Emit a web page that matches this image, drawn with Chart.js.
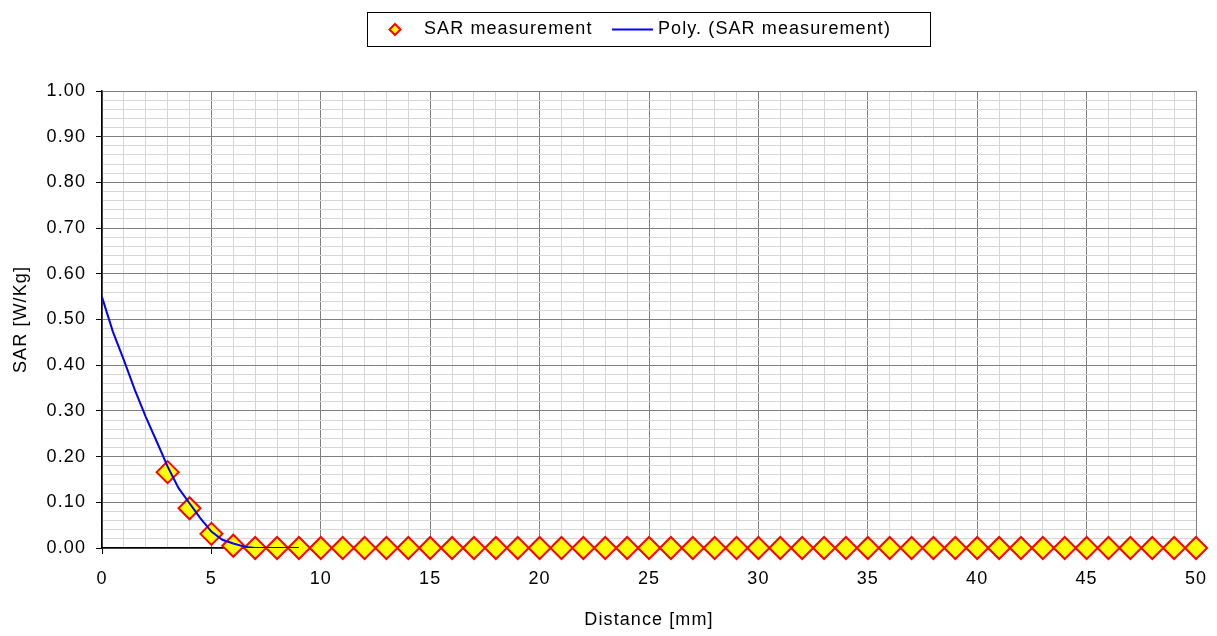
<!DOCTYPE html>
<html>
<head>
<meta charset="utf-8">
<script src="https://cdn.jsdelivr.net/npm/chart.js@4/dist/chart.umd.min.js"></script>
<style>
html,body{margin:0;padding:0;background:#fff;}
#wrap{width:1217px;height:636px;position:relative;}
</style>
</head>
<body>
<div id="wrap"><canvas id="c" width="1217" height="636"></canvas></div>
<script>
// Measured SAR values (distance in mm)
const measDistance = [3,4,5,6,7,8,9,10,11,12,13,14,15,16,17,18,19,20,21,22,23,24,25,26,27,28,29,30,31,32,33,34,35,36,37,38,39,40,41,42,43,44,45,46,47,48,49,50];
const measSAR = [0.166,0.087,0.031,0.005,0,0,0,0,0,0,0,0,0,0,0,0,0,0,0,0,0,0,0,0,0,0,0,0,0,0,0,0,0,0,0,0,0,0,0,0,0,0,0,0,0,0,0,0];
// Polynomial trend line
const polyDistance = [0,0.5,1,1.5,2,2.5,3,3.5,4,4.5,5,5.5,6,6.5,7,7.5,8,8.5,9];
const polySAR = [0.549,0.473,0.411,0.346,0.287,0.233,0.178,0.131,0.098,0.065,0.036,0.018,0.010,0.003,0,0,0,0,0];
// Tick labels
const xTickLabels = ['0','5','10','15','20','25','30','35','40','45','50'];
const yTickLabels = ['0.00','0.10','0.20','0.30','0.40','0.50','0.60','0.70','0.80','0.90','1.00'];
const seriesNames = ['SAR measurement','Poly. (SAR measurement)'];

const FONT = "'Liberation Sans', Arial, sans-serif";
const FS = 18;
const LS = '1.1px';

const spacingPlugin = {
  id: 'spacing',
  beforeInit(chart){ chart.ctx.letterSpacing = LS; },
  beforeUpdate(chart){ chart.ctx.letterSpacing = LS; },
  beforeLayout(chart){ chart.ctx.letterSpacing = LS; },
  beforeDraw(chart){ chart.ctx.letterSpacing = LS; }
};

const legendPlugin = {
  id: 'boxLegend',
  afterDraw(chart){
    const ctx = chart.ctx;
    ctx.save();
    ctx.letterSpacing = LS;
    ctx.strokeStyle = '#000';
    ctx.lineWidth = 1;
    ctx.strokeRect(367.5, 12.5, 563, 34);
    const cy = 29.5;
    ctx.beginPath();
    ctx.moveTo(395, cy - 5.5);
    ctx.lineTo(400.5, cy);
    ctx.lineTo(395, cy + 5.5);
    ctx.lineTo(389.5, cy);
    ctx.closePath();
    ctx.fillStyle = '#ffff00';
    ctx.fill();
    ctx.strokeStyle = '#ff0000';
    ctx.lineWidth = 2;
    ctx.stroke();
    ctx.font = FS + 'px ' + FONT;
    ctx.fillStyle = '#000';
    ctx.textBaseline = 'middle';
    ctx.textAlign = 'left';
    ctx.fillText(seriesNames[0], 424, cy);
    ctx.beginPath();
    ctx.moveTo(612, cy);
    ctx.lineTo(653, cy);
    ctx.strokeStyle = '#0000ff';
    ctx.lineWidth = 2;
    ctx.stroke();
    ctx.fillText(seriesNames[1], 658, cy);
    ctx.restore();
  }
};

const gridColor = (c) => (c.index % 5 === 0 ? '#808080' : '#d6d6d6');
const tickColor = (c) => (c.index % 5 === 0 ? '#000' : 'rgba(0,0,0,0)');

new Chart(document.getElementById('c'), {
  type: 'scatter',
  data: {
    datasets: [
      {
        label: seriesNames[1],
        data: polyDistance.map((x, i) => ({x: x, y: polySAR[i]})),
        showLine: true,
        borderColor: '#0000ff',
        borderWidth: 2,
        pointRadius: 0,
        tension: 0,
        fill: false,
        order: 0
      },
      {
        label: seriesNames[0],
        data: measDistance.map((x, i) => ({x: x, y: measSAR[i]})),
        showLine: false,
        pointStyle: 'rectRot',
        pointRadius: 11,
        pointHoverRadius: 11,
        pointBackgroundColor: '#ffff00',
        pointBorderColor: '#ff0000',
        pointBorderWidth: 2,
        clip: false,
        order: 1
      }
    ]
  },
  options: {
    responsive: false,
    animation: false,
    events: [],
    layout: {padding: {left: 0, top: 91, right: 21, bottom: 0}},
    plugins: {legend: {display: false}, tooltip: {enabled: false}},
    scales: {
      x: {
        type: 'linear', min: 0, max: 50,
        afterFit(s){ s.height = 88; s.paddingLeft = 0; s.paddingRight = 0; },
        ticks: {
          stepSize: 1, autoSkip: false, maxRotation: 0, padding: 14,
          color: '#000', font: {family: FONT, size: FS},
          callback: (v, i) => (i % 5 === 0 ? xTickLabels[i / 5] : '')
        },
        grid: {color: gridColor, tickColor: tickColor, tickLength: 6, lineWidth: 1},
        border: {color: '#000', width: 1.5},
        title: {display: true, text: 'Distance [mm]', color: '#000', font: {family: FONT, size: FS}, padding: {top: 0, bottom: 5}}
      },
      y: {
        type: 'linear', min: 0, max: 1,
        afterFit(s){ s.width = 102; },
        ticks: {
          stepSize: 0.02, autoSkip: false, padding: 10,
          color: '#000', font: {family: FONT, size: FS},
          callback: (v, i) => (i % 5 === 0 ? yTickLabels[i / 5] : '')
        },
        grid: {color: gridColor, tickColor: tickColor, tickLength: 6, lineWidth: 1},
        border: {color: '#000', width: 1.5},
        title: {display: true, text: 'SAR [W/Kg]', color: '#000', font: {family: FONT, size: FS}, padding: {top: 10, bottom: 0}}
      }
    }
  },
  plugins: [spacingPlugin, legendPlugin]
});
</script>
</body>
</html>
